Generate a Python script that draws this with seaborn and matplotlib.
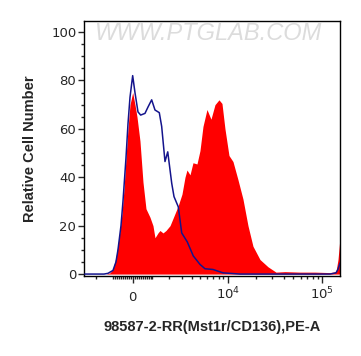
import numpy as np
import matplotlib
matplotlib.use("Agg")
import matplotlib.pyplot as plt
import matplotlib.transforms as mtransforms
import seaborn as sns

# sample (red, filled) - fluorescence value vs relative cell number
red_x = [-1394, -1162, -996, -836, -732, -628, -527, -427, -327, -229, -131, 0,
         112, 210, 357, 507, 659, 867, 1029, 1140, 1311, 1429, 1613, 1805, 2079,
         2369, 2680, 3018, 3292, 3483, 3789, 4108, 4574, 4950, 5354, 5937, 6576,
         7278, 8049, 8676, 9349, 10324, 11401, 12894, 14580, 16490, 18636, 22120,
         26900, 32700, 40700, 58650, 84500, 121800, 140900, 148000, 155400]
red_y = [0, 0.5, 2, 7, 12, 18, 25, 35, 48, 60, 70, 75,
         70, 65, 55, 38, 27, 23.5, 20, 15, 17, 18, 17, 18, 20,
         24, 28, 33, 40, 43, 41, 46, 45.5, 51, 61, 68, 64,
         70, 72, 70.5, 60, 49, 46.5, 39, 31, 20, 11.5, 6,
         3, 0.8, 1, 0.8, 0.8, 0.6, 1, 6, 15]

# isotype control (blue line)
blue_x = [-2900, -1514, -1276, -996, -836, -732, -577, -477, -327, -229, -131, 0,
          112, 259, 392, 608, 762, 958, 1140, 1388, 1532, 1740, 1922, 2200,
          2369, 2704, 2995, 3512, 4142, 4950, 5639, 6919, 8895, 13546,
          121800, 140900, 148000, 155400]
blue_y = [0, 0, 0.3, 1.5, 5, 10, 20, 30, 48, 62, 73, 82,
          75, 67, 65.7, 66.4, 69, 72, 67.8, 66.7, 61, 46.5, 50.5, 37.5,
          32, 27.8, 17, 13.3, 7.5, 4, 2.2, 1.9, 0.5, 0,
          0, 0.5, 2, 4.5]

x_major = [0, 1e4, 1e5]
x_major_labels = ["0", "$10^4$", "$10^5$"]

sns.set_style("ticks")
plt.rcParams["font.family"] = ["DejaVu Sans"]
plt.rcParams["mathtext.default"] = "regular"

C = 2000.0


def fwd(x):
    return np.arcsinh(np.asarray(x) / C) / np.log(10)


def inv(t):
    return C * np.sinh(np.asarray(t) * np.log(10))


fig = plt.figure(figsize=(3.61, 3.56), dpi=100)
ax = fig.add_axes([84 / 361, 80 / 356, 256 / 361, 255.3 / 356])

ax.set_xscale("function", functions=(fwd, inv))
ax.fill_between(red_x, red_y, 0, color="#ff0000", lw=0, zorder=2)
sns.lineplot(x=blue_x, y=blue_y, color="#14148c", lw=1.1, sort=False,
             estimator=None, ax=ax, zorder=3)

ax.set_xlim(-2964, 155400)
ax.set_ylim(-0.8, 104.7)

minor_x = ([-2000] + [v for v in range(-1000, 1001, 100) if v != 0]
           + list(range(2000, 10000, 1000)) + list(range(20000, 100000, 10000)))
ax.set_xticks(x_major)
ax.set_xticklabels(x_major_labels)
ax.set_xticks(minor_x, minor=True)
ax.set_yticks([0, 20, 40, 60, 80, 100])
ax.set_yticks(np.arange(0, 105, 5), minor=True)

ax.tick_params(axis="x", which="major", length=5, width=1, labelsize=9.5, pad=2)
ax.tick_params(axis="x", which="minor", length=2.5, width=1)
ax.tick_params(axis="y", which="major", length=4.5, width=1, labelsize=9.5, pad=1)
ax.tick_params(axis="y", which="minor", length=2.5, width=1)

# keep the plain "0" on the same baseline as the 10^n labels
lab0 = ax.get_xticklabels()[0]
lab0.set_transform(lab0.get_transform() +
                   mtransforms.ScaledTranslation(0, -3.5 / 72, fig.dpi_scale_trans))

for s in ax.spines.values():
    s.set_linewidth(1)
    s.set_color("black")

ax.set_ylabel("Relative Cell Number", fontsize=10.5, fontweight="bold",
              family=["Liberation Sans", "DejaVu Sans"], labelpad=10)
ax.set_xlabel("98587-2-RR(Mst1r/CD136),PE-A", fontsize=10.5, fontweight="bold",
              family=["Liberation Sans", "DejaVu Sans"], labelpad=12)

ax.text(0.488, 0.948, "WWW.PTGLAB.COM", transform=ax.transAxes, ha="center",
        va="center", fontsize=17, color="#dcdcdc", fontstyle="italic",
        family=["Liberation Sans", "DejaVu Sans"], zorder=1)

fig.savefig("out.png", dpi=100)
